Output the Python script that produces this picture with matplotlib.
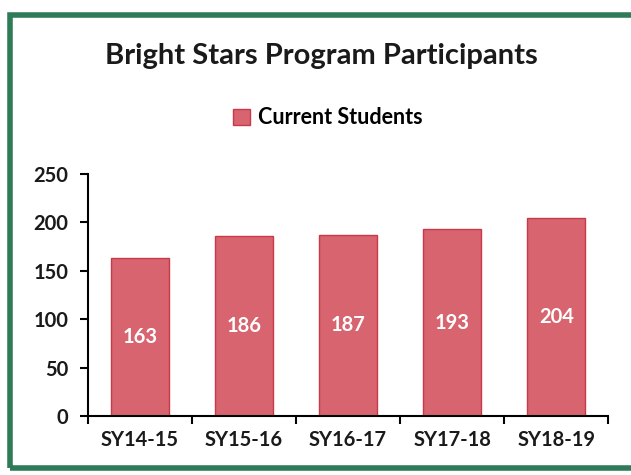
import matplotlib.pyplot as plt
from matplotlib.patches import Rectangle

# data
years = ['SY14-15', 'SY15-16', 'SY16-17', 'SY17-18', 'SY18-19']
students = [163, 186, 187, 193, 204]

plt.rcParams['font.family'] = ['Lato', 'DejaVu Sans']

fig = plt.figure(figsize=(6.31, 4.75), dpi=100)
fig.patch.set_facecolor('white')

# green frame around the chart
frame = Rectangle((0.016, 0.014), 1.0, 0.955, transform=fig.transFigure,
                  fill=False, edgecolor='#2f7a57', linewidth=4, clip_on=False)
fig.patches.append(frame)

ax = fig.add_axes([0.139, 0.124, 0.825, 0.51])
bars = ax.bar(years, students, width=0.56, color='#d7646e',
              edgecolor='#c83a4a', linewidth=1.0, label='Current Students')

# value labels in the middle of each bar
for b, v in zip(bars, students):
    ax.text(b.get_x() + b.get_width() / 2, v / 2, str(v),
            ha='center', va='center', color='white', fontsize=14.5,
            fontweight='bold')

ax.set_ylim(0, 250)
ax.set_yticks([0, 50, 100, 150, 200, 250])
ax.set_xlim(-0.5, 4.5)
ax.spines['top'].set_visible(False)
ax.spines['right'].set_visible(False)
ax.spines['left'].set_linewidth(1.5)
ax.spines['bottom'].set_linewidth(1.5)

# ticks on category boundaries
ax.set_xticks(range(len(years)))
ax.set_xticklabels(years, fontsize=14.5, fontweight='bold', color='#1a1a1a')
ax.tick_params(axis='x', length=0, pad=10)
ax.set_xticks([i - 0.5 for i in range(len(years) + 1)], minor=True)
ax.tick_params(axis='x', which='minor', length=6, width=1.5, direction='out')
ax.tick_params(axis='y', labelsize=14.5, length=6, width=1.5, pad=8,
               labelcolor='#1a1a1a')
for lab in ax.get_yticklabels():
    lab.set_fontweight('bold')

fig.text(0.51, 0.882, 'Bright Stars Program Participants', ha='center',
         va='center', fontsize=21, fontweight='bold', color='#1a1a1a')

fig.legend(loc='center', bbox_to_anchor=(0.52, 0.752), frameon=False,
           prop={'size': 15.5, 'weight': 'bold'}, handlelength=0.75,
           handleheight=0.75, handletextpad=0.4)

fig.savefig('out.png', dpi=100)
